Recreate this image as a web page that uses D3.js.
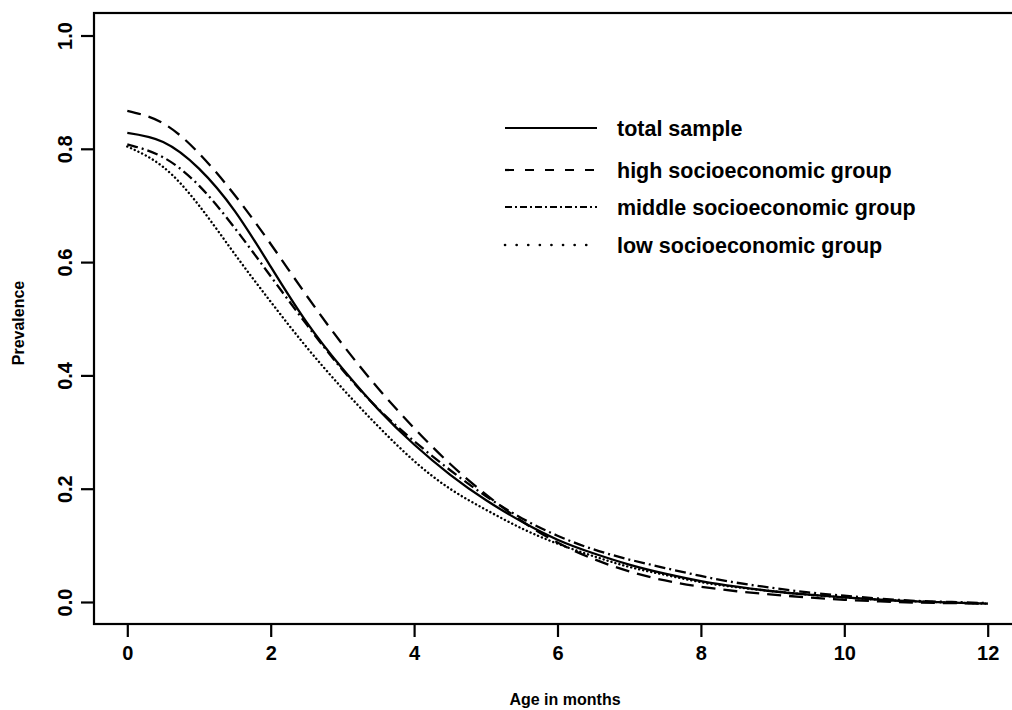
<!DOCTYPE html>
<html>
<head>
<meta charset="utf-8">
<script src="https://cdn.jsdelivr.net/npm/d3@7"></script>
<style>
  html, body { margin: 0; padding: 0; background: #fff; overflow: hidden; }
  svg { display: block; }
  text { font-family: "Liberation Sans", Arial, Helvetica, sans-serif; fill: #000; }
</style>
</head>
<body>
<svg id="chart" width="1012" height="710"></svg>
<script>
// ---- data ----
const months = [0, 0.5, 1, 1.5, 2, 2.5, 3, 3.5, 4, 4.5, 5, 5.5, 6, 6.5, 7, 7.5, 8, 8.5, 9, 9.5, 10, 10.5, 11, 11.5, 12];
const totalSample = [0.828, 0.812, 0.765, 0.690, 0.592, 0.494, 0.412, 0.340, 0.278, 0.225, 0.180, 0.142, 0.110, 0.086, 0.066, 0.050, 0.037, 0.027, 0.019, 0.013, 0.008, 0.004, 0.001, -0.001, -0.003];
const highGroup   = [0.867, 0.845, 0.792, 0.718, 0.632, 0.541, 0.455, 0.377, 0.307, 0.244, 0.190, 0.143, 0.105, 0.076, 0.054, 0.038, 0.027, 0.019, 0.013, 0.008, 0.004, 0.001, -0.001, -0.002, -0.003];
const middleGroup = [0.808, 0.785, 0.735, 0.660, 0.575, 0.490, 0.410, 0.341, 0.284, 0.233, 0.187, 0.148, 0.117, 0.093, 0.075, 0.060, 0.046, 0.034, 0.025, 0.017, 0.011, 0.006, 0.002, 0.000, -0.002];
const lowGroup    = [0.804, 0.768, 0.700, 0.614, 0.530, 0.450, 0.377, 0.310, 0.249, 0.200, 0.163, 0.130, 0.103, 0.081, 0.062, 0.048, 0.035, 0.026, 0.019, 0.013, 0.008, 0.004, 0.001, -0.001, -0.003];
const seriesNames = ["total sample", "high socioeconomic group", "middle socioeconomic group", "low socioeconomic group"];
const xTicks = [0, 2, 4, 6, 8, 10, 12];
const yTicks = [0.0, 0.2, 0.4, 0.6, 0.8, 1.0];
const xTitle = "Age in months";
const yTitle = "Prevalence";

// ---- styles ----
const plotDash   = [null, "14,8", "11,4,2,4", "0.1,4"];
const legendDash = [null, "9,11", "7,3,2,3", "0.1,11.5"];

const svg = d3.select("#chart");
const box = { left: 94, top: 13, right: 1014, bottom: 624 };

const x = d3.scaleLinear().domain([0, 12]).range([127.3, 987.7]);
const y = d3.scaleLinear().domain([0, 1]).range([602, 35.5]);

// frame
svg.append("rect")
  .attr("x", box.left).attr("y", box.top)
  .attr("width", box.right - box.left).attr("height", box.bottom - box.top)
  .attr("fill", "none").attr("stroke", "#000").attr("stroke-width", 2.2);

// x axis
const gx = svg.append("g")
  .attr("transform", `translate(0,${box.bottom})`)
  .call(d3.axisBottom(x).tickValues(xTicks).tickSize(13).tickPadding(9).tickFormat(d3.format("d")));
gx.select(".domain").remove();
gx.selectAll(".tick line").attr("stroke", "#000").attr("stroke-width", 2.2);
gx.selectAll(".tick text")
  .style("font-size", "20px").style("font-weight", "bold")
  .style("font-family", "'Liberation Sans', Arial, sans-serif");

// y axis
const gy = svg.append("g")
  .attr("transform", `translate(${box.left},0)`)
  .call(d3.axisLeft(y).tickValues(yTicks).tickSize(13).tickFormat(d3.format(".1f")));
gy.select(".domain").remove();
gy.selectAll(".tick line").attr("stroke", "#000").attr("stroke-width", 2.2);
gy.selectAll(".tick text")
  .attr("x", null).attr("dy", null)
  .attr("text-anchor", "middle")
  .attr("transform", "translate(-22,0) rotate(-90)")
  .style("font-size", "20px").style("font-weight", "bold")
  .style("font-family", "'Liberation Sans', Arial, sans-serif");

// axis titles
svg.append("text")
  .attr("x", 565).attr("y", 705)
  .attr("text-anchor", "middle")
  .style("font-size", "16px").style("font-weight", "bold")
  .text(xTitle);
svg.append("text")
  .attr("transform", "translate(24,323) rotate(-90)")
  .attr("text-anchor", "middle")
  .style("font-size", "16px").style("font-weight", "bold")
  .text(yTitle);

// curves
const allSeries = [totalSample, highGroup, middleGroup, lowGroup];
const line = d3.line()
  .x((d, i) => x(months[i]))
  .y(d => y(d))
  .curve(d3.curveNatural);

allSeries.forEach((vals, k) => {
  svg.append("path")
    .datum(vals)
    .attr("d", line)
    .attr("fill", "none")
    .attr("stroke", "#000")
    .attr("stroke-width", k === 3 ? 2.4 : 2.3)
    .attr("stroke-linecap", k === 3 ? "round" : "butt")
    .attr("stroke-dasharray", plotDash[k]);
});

// legend
const legendRows = [128, 170, 207, 245];
seriesNames.forEach((name, k) => {
  svg.append("line")
    .attr("x1", 505).attr("x2", 597)
    .attr("y1", legendRows[k]).attr("y2", legendRows[k])
    .attr("stroke", "#000")
    .attr("stroke-width", k === 3 ? 2.6 : 2.2)
    .attr("stroke-linecap", k === 3 ? "round" : "butt")
    .attr("stroke-dasharray", legendDash[k]);
  svg.append("text")
    .attr("x", 617).attr("y", legendRows[k] + 8)
    .style("font-size", "21.5px").style("font-weight", "bold")
    .text(name);
});
</script>
</body>
</html>
